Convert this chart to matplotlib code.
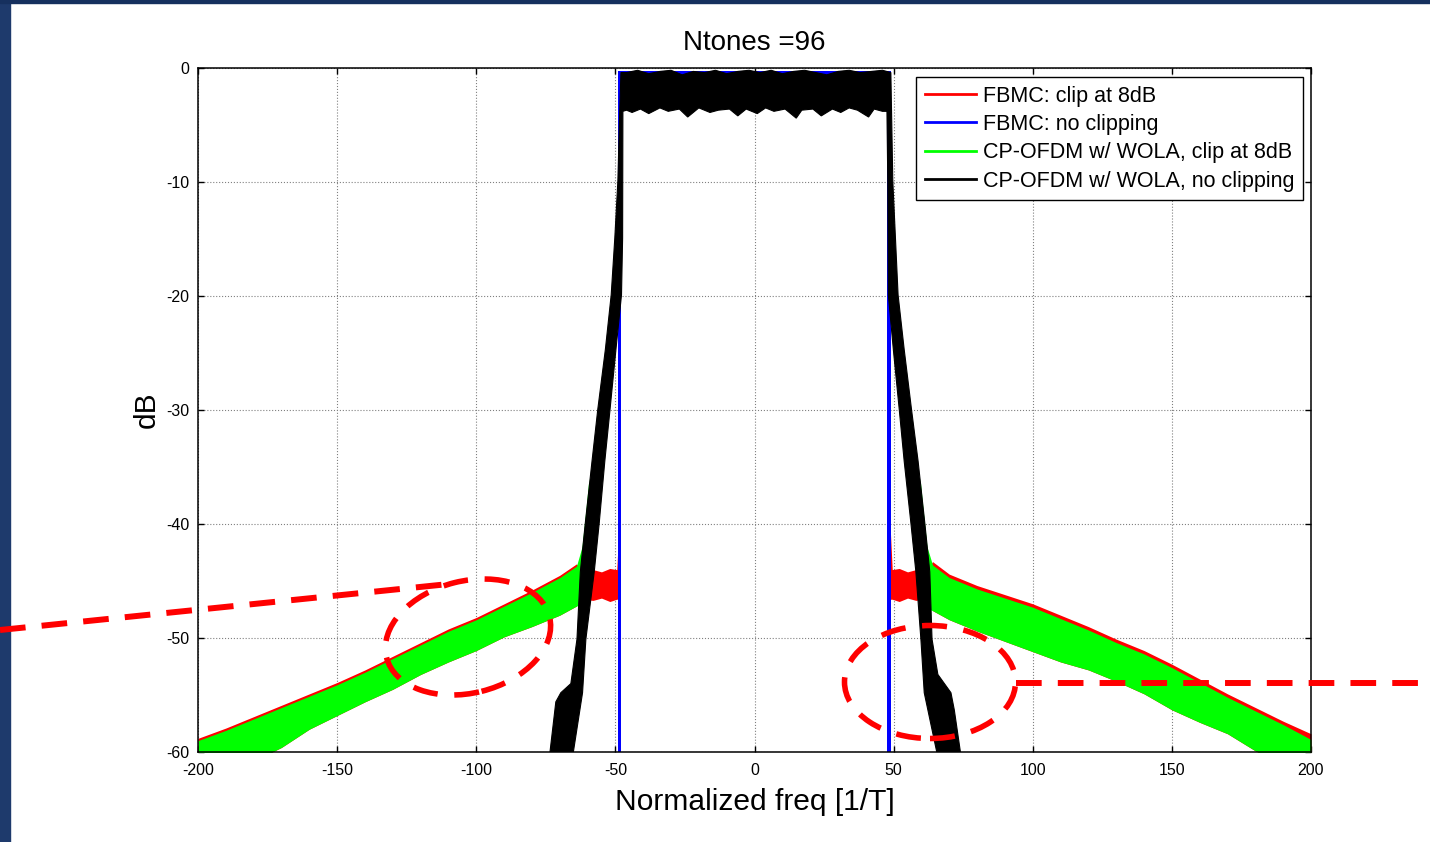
import matplotlib
matplotlib.use("Agg")
import matplotlib.pyplot as plt
from matplotlib.lines import Line2D
from matplotlib.patches import Ellipse, Rectangle
from matplotlib.transforms import IdentityTransform

plt.rcParams['font.family'] = ['Liberation Sans', 'DejaVu Sans']
plt.rcParams['axes.unicode_minus'] = False

# ---- data (freq in 1/T, level in dB) ----
# FBMC clip at 8dB : noisy band, left and right of the passband
red_left_f = [-200, -190, -180, -170, -160, -150, -140, -130, -120, -110, -100,
              -90, -80, -70, -64, -62, -58, -55, -52, -49.5, -48.8]
red_left_hi = [-58.8, -57.9, -56.9, -55.9, -54.9, -53.9, -52.8, -51.6, -50.4, -49.2,
               -48.2, -47.0, -45.8, -44.5, -43.5, -44.0, -44.0, -44.2, -43.9, -44.0, -40.5]
red_left_lo = [-61, -61, -60.8, -59.6, -58.0, -56.8, -55.6, -54.5, -53.2, -52.1,
               -51.1, -49.9, -49.0, -48.0, -47.2, -46.6, -46.7, -46.5, -46.8, -46.6, -46.6]
red_right_f = [48.8, 49.5, 52, 55, 58, 62, 64, 70, 80, 90, 100, 110, 120, 130,
               140, 150, 160, 170, 180, 190, 200]
red_right_hi = [-40.5, -44.0, -43.9, -44.2, -44.0, -44.0, -43.3, -44.4, -45.4, -46.2,
                -47.0, -48.0, -49.0, -50.1, -51.1, -52.3, -53.6, -54.9, -56.1, -57.3, -58.4]
red_right_lo = [-46.6, -46.6, -46.8, -46.5, -46.7, -46.6, -47.6, -48.4, -49.4, -50.3,
                -51.2, -52.1, -52.8, -53.8, -54.9, -56.3, -57.4, -58.4, -59.9, -61, -61]

# FBMC no clipping : passband and near-vertical edges
blue_f = [-49.1, -49.1, 48.9, 48.9, 47.6, 47.6, -47.8, -47.8]
blue_db = [-61, -0.25, -0.25, -61, -61, -3.0, -3.0, -61]

# CP-OFDM w/ WOLA, clip at 8dB : noisy band
green_left_f = [-200, -190, -180, -170, -160, -150, -140, -130, -120, -110, -100,
                -90, -80, -70, -64, -62, -60.5, -59.5]
green_left_hi = [-59.0, -58.1, -57.1, -56.1, -55.1, -54.1, -53.0, -51.8, -50.6, -49.4,
                 -48.4, -47.2, -46.0, -44.7, -43.7, -42.0, -38.5, -36.0]
green_left_lo = [-61, -61, -60.8, -59.6, -58.0, -56.8, -55.6, -54.5, -53.2, -52.1,
                 -51.1, -49.9, -49.0, -48.0, -47.2, -47.0, -42.0, -37.0]
green_right_f = [59.5, 60.5, 62, 64, 70, 75, 80, 90, 100, 110, 120, 130, 140, 150,
                 160, 170, 180, 190, 200]
green_right_hi = [-36.0, -38.5, -42.0, -43.6, -44.7, -45.2, -45.7, -46.5, -47.3, -48.3,
                  -49.3, -50.4, -51.4, -52.6, -53.9, -55.2, -56.4, -57.6, -58.9]
green_right_lo = [-37.0, -42.0, -47.4, -47.6, -48.4, -48.9, -49.4, -50.3, -51.2, -52.1,
                  -52.8, -53.8, -54.9, -56.3, -57.4, -58.4, -59.9, -61, -61]

# CP-OFDM w/ WOLA, no clipping : outline of the thick trace
blk_left_out_f = [-74.0, -73.5, -71.4, -69.6, -66.0, -63.8, -62.6, -60.8, -58.4, -56.3,
                  -53.6, -51.5, -50.2, -49.1, -48.6, -48.0]
blk_left_out_db = [-61, -60.0, -55.6, -54.8, -54.0, -50.1, -44.2, -39.9, -34.5, -29.9,
                   -24.7, -19.9, -14.9, -9.9, -5.2, -0.4]
blk_top_f = [-46, -42, -38, -34, -30, -26, -22, -18, -14, -10, -6, -2, 2, 6, 10, 14,
             18, 22, 26, 30, 34, 38, 42, 46]
blk_top_db = [-0.4, -0.2, -0.5, -0.3, -0.2, -0.6, -0.3, -0.4, -0.2, -0.5, -0.3, -0.2,
              -0.4, -0.2, -0.5, -0.3, -0.2, -0.4, -0.6, -0.3, -0.2, -0.4, -0.3, -0.2]
blk_right_out_f = [49.0, 49.7, 51.6, 53.8, 56.4, 58.8, 61.2, 63.0, 63.8, 65.9, 70.6,
                   71.8, 74.0, 74.5]
blk_right_out_db = [-0.4, -9.9, -19.9, -24.7, -29.9, -34.5, -39.9, -44.2, -50.1, -53.2,
                    -54.8, -56.3, -60.0, -61]
blk_right_in_f = [65.0, 65.5, 61.0, 59.8, 58.0, 56.2, 53.8, 52.0, 49.9, 48.1, 47.9, 47.6]
blk_right_in_db = [-61, -60.0, -54.8, -50.1, -44.2, -39.9, -34.5, -29.9, -24.7, -19.9,
                   -9.9, -3.8]
blk_bot_f = [46, 43, 41, 37, 34, 31, 28, 24, 21, 17, 15, 11, 7, 4, 1, -3, -6, -9,
             -13, -16, -20, -24, -27, -31, -34, -38, -41, -44, -46]
blk_bot_db = [-3.8, -3.6, -4.3, -3.7, -3.5, -3.9, -3.6, -4.2, -3.6, -3.7, -4.4, -3.6,
              -3.8, -3.5, -4.0, -3.6, -4.2, -3.6, -3.7, -3.9, -3.5, -4.3, -3.6, -3.8,
              -3.5, -4.0, -3.6, -3.9, -3.7]
blk_left_in_f = [-47.3, -47.4, -47.8, -49.8, -51.9, -53.8, -55.8, -57.6, -60.6, -61.8,
                 -65.1, -65.6]
blk_left_in_db = [-3.8, -14.9, -19.9, -24.7, -29.9, -34.5, -39.9, -44.2, -50.1, -54.8,
                  -60.0, -61]

labels = ['FBMC: clip at 8dB', 'FBMC: no clipping',
          'CP-OFDM w/ WOLA, clip at 8dB', 'CP-OFDM w/ WOLA, no clipping']
colors = ['#ff0000', '#0000ff', '#00ff00', '#000000']
xticks = [-200, -150, -100, -50, 0, 50, 100, 150, 200]
yticks = [-60, -50, -40, -30, -20, -10, 0]

W, H = 1430, 842
fig = plt.figure(figsize=(W / 100, H / 100), dpi=100)
fig.patch.set_facecolor('white')

# slide background strips
fig.add_artist(Rectangle((0, 0), 10 / W, 1, transform=fig.transFigure,
                         color='#1e3a6c', zorder=0))
fig.add_artist(Rectangle((0, 1 - 3 / H), 1, 3 / H, transform=fig.transFigure,
                         color='#16305e', zorder=0))

ax = fig.add_axes([198 / W, 90 / H, 1113 / W, 684 / H])

ax.fill_between(red_left_f, red_left_lo, red_left_hi, color=colors[0], lw=0)
ax.fill_between(red_right_f, red_right_lo, red_right_hi, color=colors[0], lw=0)
ax.fill(blue_f, blue_db, color=colors[1], lw=0)
ax.fill_between(green_left_f, green_left_lo, green_left_hi, color=colors[2], lw=0)
ax.fill_between(green_right_f, green_right_lo, green_right_hi, color=colors[2], lw=0)
blk_f = (blk_left_out_f + blk_top_f + blk_right_out_f + blk_right_in_f
         + blk_bot_f + blk_left_in_f)
blk_db = (blk_left_out_db + blk_top_db + blk_right_out_db + blk_right_in_db
          + blk_bot_db + blk_left_in_db)
ax.fill(blk_f, blk_db, color=colors[3], lw=0.8)

ax.set_xlim(-200, 200)
ax.set_ylim(-60, 0)
ax.set_xticks(xticks)
ax.set_yticks(yticks)
ax.grid(True, ls=':', color='0.5', lw=0.8)
ax.set_axisbelow(True)
ax.tick_params(direction='in', length=4, width=1, top=True, right=True,
               labelsize=11.5)
ax.tick_params(axis='x', pad=8)
ax.tick_params(axis='y', pad=6)
for s in ax.spines.values():
    s.set_linewidth(1.1)

ax.set_title('Ntones =96', fontsize=20, pad=13)
ax.set_xlabel('Normalized freq [1/T]', fontsize=21.6, labelpad=7)
ax.set_ylabel('dB', fontsize=21.6, labelpad=4)

handles = [Line2D([], [], color=c, lw=2) for c in colors]
leg = ax.legend(handles, labels, loc='upper right',
                bbox_to_anchor=(0.9928, 0.9868), borderaxespad=0,
                fontsize=15.5, handlelength=2.4, handletextpad=0.3,
                labelspacing=0.34, borderpad=0.4, fancybox=False,
                framealpha=1, edgecolor='black')
leg.get_frame().set_linewidth(1.0)

# red dashed call-outs (pixel positions on the slide)
dash = (0, (4.3, 2.7))
fig.add_artist(Line2D([0, 449], [H - 630, H - 584], transform=IdentityTransform(),
                      color='#ff0000', lw=4.3, ls=dash, zorder=5))
fig.add_artist(Ellipse((468, H - 637), 168, 112, angle=14, transform=IdentityTransform(),
                       fill=False, edgecolor='#ff0000', lw=4, ls=(0, (4.5, 3)), zorder=5))
fig.add_artist(Ellipse((930, H - 682), 171, 113, angle=0, transform=IdentityTransform(),
                       fill=False, edgecolor='#ff0000', lw=4, ls=(0, (4.5, 3)), zorder=5))
fig.add_artist(Line2D([1016, W], [H - 683, H - 683], transform=IdentityTransform(),
                      color='#ff0000', lw=4.3, ls=dash, zorder=5))

fig.savefig('out.png', dpi=100)
